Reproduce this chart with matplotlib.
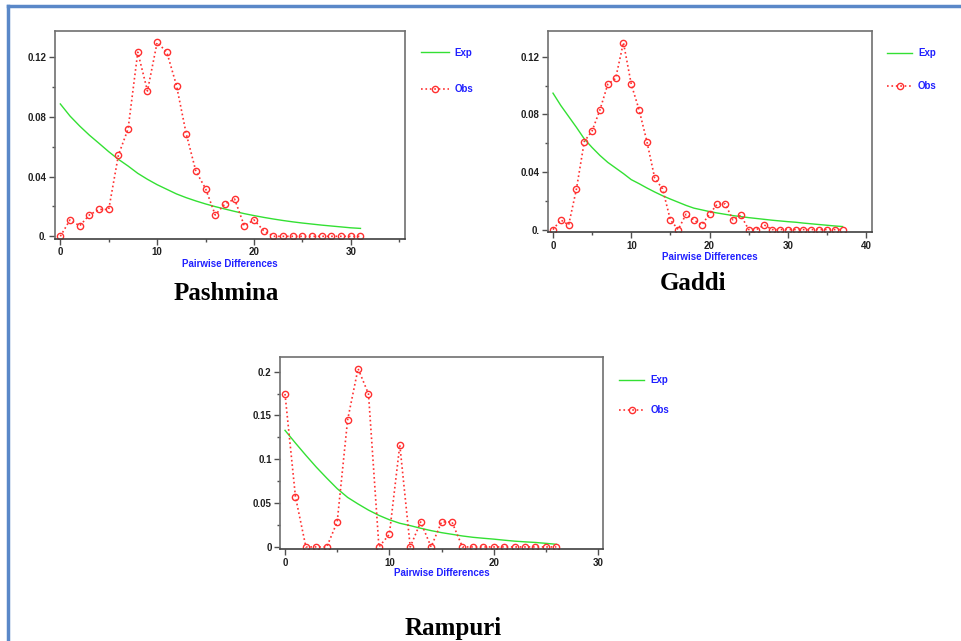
import matplotlib.pyplot as plt
from matplotlib.lines import Line2D
from matplotlib.ticker import MultipleLocator, FixedLocator

# mismatch distributions
pash_obs = [0, 0.011, 0.007, 0.0143, 0.018, 0.018, 0.0545, 0.072, 0.1234, 0.0974,
            0.130, 0.1234, 0.101, 0.0688, 0.0436, 0.032, 0.0143, 0.0217, 0.025, 0.007,
            0.011, 0.0038, 0, 0, 0, 0, 0, 0, 0, 0, 0, 0]
pash_exp = [0.0887, 0.0806, 0.0739, 0.0678, 0.0623, 0.0567, 0.0516, 0.0471, 0.0422, 0.0382,
            0.0346, 0.0315, 0.0284, 0.0259, 0.0237, 0.0217, 0.0199, 0.0183, 0.0167, 0.0152,
            0.0139, 0.0127, 0.0116, 0.0106, 0.0097, 0.0089, 0.0082, 0.0075, 0.0069, 0.0063,
            0.0057, 0.0053]
gaddi_obs = [0, 0.0067, 0.0032, 0.0283, 0.0612, 0.0686, 0.0832, 0.101, 0.105, 0.130,
             0.101, 0.0832, 0.0612, 0.0357, 0.0283, 0.0067, 0, 0.0107, 0.0067, 0.0032,
             0.0107, 0.0178, 0.0178, 0.0067, 0.010, 0, 0, 0.0032, 0, 0,
             0, 0, 0, 0, 0, 0, 0, 0]
gaddi_exp = [0.0948, 0.0862, 0.0786, 0.0710, 0.0630, 0.0570, 0.0515, 0.0467, 0.0428, 0.0389,
             0.0347, 0.0319, 0.0289, 0.0261, 0.0235, 0.0212, 0.0190, 0.0168, 0.0149, 0.0137,
             0.0125, 0.0115, 0.0106, 0.0097, 0.0090, 0.0083, 0.0077, 0.0071, 0.0065, 0.0060,
             0.0055, 0.0051, 0.0045, 0.0040, 0.0035, 0.0030, 0.0025, 0.0021]
ramp_obs = [0.1745, 0.0574, 0, 0, 0, 0.0285, 0.145, 0.2034, 0.1745, 0,
            0.0144, 0.1163, 0, 0.0285, 0, 0.0285, 0.0285, 0, 0, 0,
            0, 0, 0, 0, 0, 0, 0]
ramp_exp = [0.133, 0.1185, 0.1045, 0.091, 0.0785, 0.0665, 0.0565, 0.049, 0.042, 0.036,
            0.031, 0.027, 0.0243, 0.0213, 0.0186, 0.0163, 0.0144, 0.0125, 0.011, 0.0099,
            0.0089, 0.0077, 0.0066, 0.0058, 0.0051, 0.0041, 0.003]

names = ["Pashmina", "Gaddi", "Rampuri"]

fig = plt.figure(figsize=(9.61, 6.41), dpi=100)

# frame lines like the document border
blue = "#5a88c8"
fig.add_artist(Line2D([8 / 961, 1], [1 - 6 / 641, 1 - 6 / 641], color=blue, lw=2.5))
fig.add_artist(Line2D([8 / 961, 8 / 961], [0, 1 - 6 / 641], color=blue, lw=2.5))

tick_font = {"family": "Liberation Sans", "weight": "bold", "size": 7}


def mismatch_panel(rect, obs, exp, xlim, xmax_tick, ylim, yticks, ylabels, yminor,
                   leg_anchor, leg_space, handle_len):
    ax = fig.add_axes(rect)
    xs = list(range(len(obs)))
    ax.plot(xs, exp, color="#33e033", lw=1.0, label="Exp")
    ax.plot(xs, obs, color="#ff3030", lw=1.2, ls=":", marker="o", ms=4.5,
            mfc="none", mec="#ff3030", mew=1.0, label="Obs")
    ax.set_xlim(*xlim)
    ax.set_ylim(*ylim)
    ax.xaxis.set_major_locator(FixedLocator(list(range(0, xmax_tick + 1, 10))))
    ax.xaxis.set_minor_locator(MultipleLocator(5))
    ax.yaxis.set_major_locator(FixedLocator(yticks))
    ax.yaxis.set_minor_locator(MultipleLocator(yminor))
    ax.set_yticklabels(ylabels, fontdict=tick_font, color="#202020")
    ax.set_xticklabels([str(t) for t in range(0, xmax_tick + 1, 10)],
                       fontdict=tick_font, color="#202020")
    ax.tick_params(which="major", length=4, width=1, color="#505050", pad=2)
    ax.tick_params(which="minor", length=2, width=1, color="#505050")
    for s in ax.spines.values():
        s.set_color("#707070")
        s.set_linewidth(1.2)
    ax.spines["bottom"].set_color("#404040")
    ax.set_xlabel("Pairwise Differences", color="#2020ff", fontsize=7,
                  fontweight="bold", family="Liberation Sans")
    ax.xaxis.set_label_coords(0.5, -0.097)
    leg = ax.legend(loc="upper left", bbox_to_anchor=leg_anchor, frameon=False,
                    borderpad=0, borderaxespad=0, labelspacing=leg_space,
                    handlelength=handle_len, handletextpad=0.6, numpoints=1,
                    prop={"family": "Liberation Sans", "weight": "bold", "size": 7})
    for t in leg.get_texts():
        t.set_color("#2020ff")
    return ax


mismatch_panel([55 / 961, 1 - 239 / 641, 350 / 961, 208 / 641], pash_obs, pash_exp,
               (-0.55, 35.6), 30, (-0.0018, 0.1376), [0, 0.04, 0.08, 0.12],
               ["0.", "0.04", "0.08", "0.12"], 0.02, (1.045, 0.92), 2.75, 2.9)
mismatch_panel([548.3 / 961, 1 - 232.3 / 641, 324 / 961, 201.3 / 641], gaddi_obs, gaddi_exp,
               (-0.6, 40.8), 40, (-0.0019, 0.138), [0, 0.04, 0.08, 0.12],
               ["0.", "0.04", "0.08", "0.12"], 0.02, (1.045, 0.915), 2.4, 2.6)
mismatch_panel([280 / 961, 1 - 549.3 / 641, 323.3 / 961, 192 / 641], ramp_obs, ramp_exp,
               (-0.48, 30.5), 30, (-0.0027, 0.2163), [0, 0.05, 0.1, 0.15, 0.2],
               ["0", "0.05", "0.1", "0.15", "0.2"], 0.025, (1.049, 0.908), 2.1, 2.6)

title_pos = [(226, 294), (693, 283), (453, 628)]
for name, (px, py) in zip(names, title_pos):
    fig.text(px / 961, 1 - py / 641, name, ha="center", va="center",
             family="Liberation Serif", fontweight="bold", fontsize=18, color="black")

fig.savefig("out.png", dpi=100)
